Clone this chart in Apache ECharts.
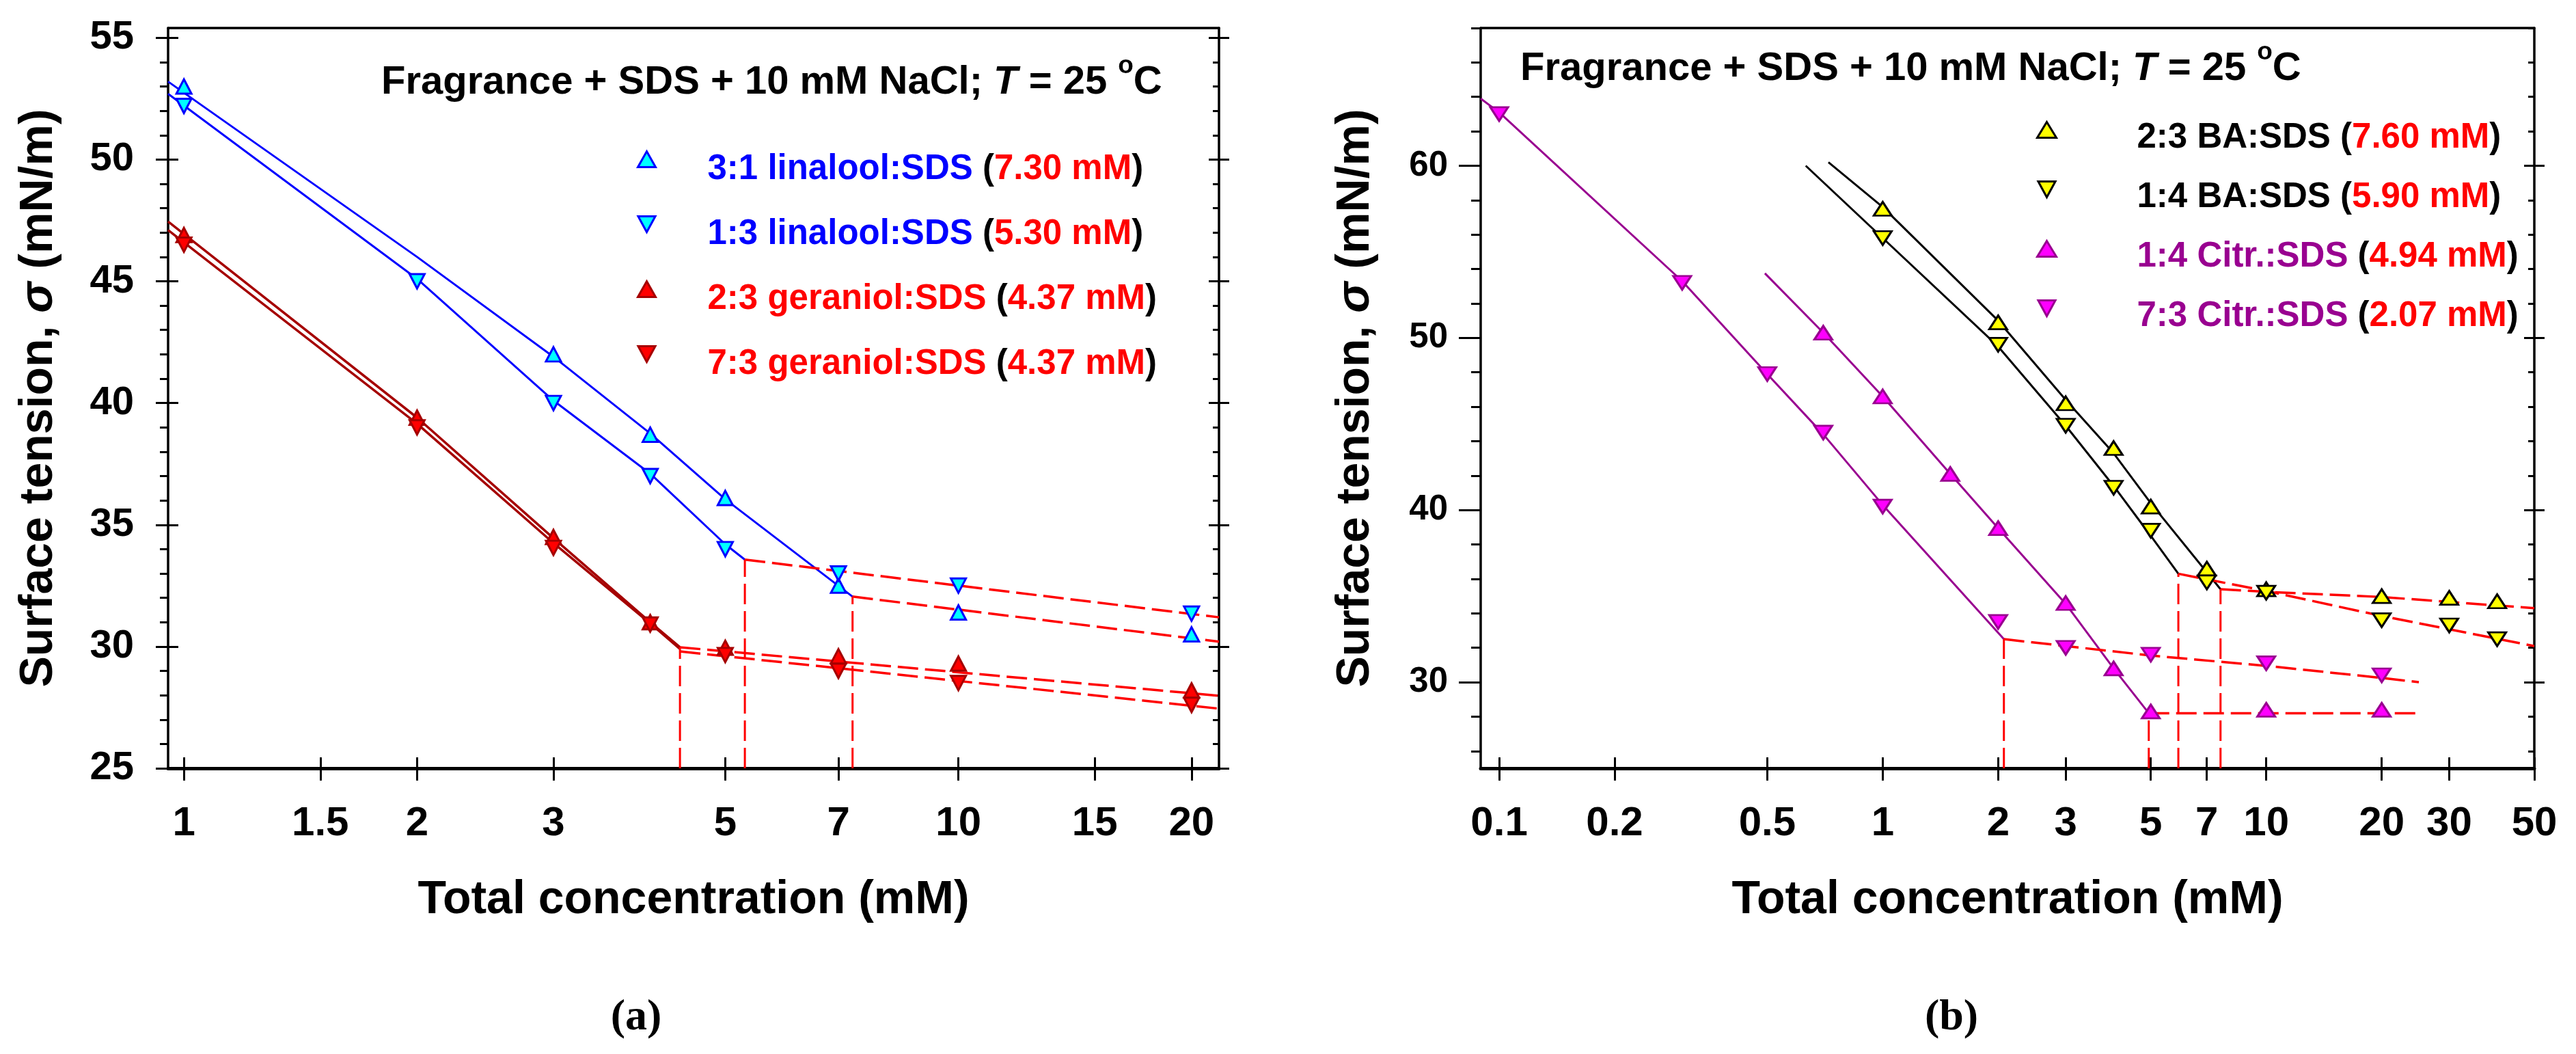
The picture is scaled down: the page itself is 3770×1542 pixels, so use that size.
<!DOCTYPE html>
<html>
<head>
<meta charset="utf-8">
<script src="https://cdn.jsdelivr.net/npm/echarts@6.0.0/dist/echarts.min.js"></script>
<style>
  html, body { margin: 0; padding: 0; background: #fff; }
  #chart { width: 3770px; height: 1542px; }
</style>
</head>
<body>
<div id="chart"></div>
<script>
// ---------- panel (a): linalool / geraniol ----------
var xTicksA = [1, 1.5, 2, 3, 5, 7, 10, 15, 20];
var xRangeA = [0.954, 21.7];
var yRangeA = [25, 55.4];
var yMajorA = [25, 30, 35, 40, 45, 50, 55];

var namesA = ['3:1 linalool:SDS', '1:3 linalool:SDS', '2:3 geraniol:SDS', '7:3 geraniol:SDS'];
var cmcTextA = ['7.30 mM', '5.30 mM', '4.37 mM', '4.37 mM'];

var concLin31 = [1, 3, 4, 5, 7, 10, 20];
var sigLin31 = [53.0, 42.0, 38.7, 36.1, 32.5, 31.4, 30.5];
var concLin13 = [1, 2, 3, 4, 5, 7, 10, 20];
var sigLin13 = [52.2, 45.0, 40.0, 37.0, 34.0, 33.0, 32.5, 31.35];
var concGer23 = [1, 2, 3, 4, 5, 7, 10, 20];
var sigGer23 = [46.9, 39.4, 34.5, 31.0, 29.95, 29.6, 29.3, 28.2];
var concGer73 = [1, 2, 3, 4, 5, 7, 10, 20];
var sigGer73 = [46.5, 39.0, 34.05, 30.9, 29.65, 29.0, 28.5, 27.6];

// fitted curves: [conc, sigma]
var fitLin31 = [[0.954, 53.2], [2, 46.0], [3, 41.9], [4, 38.75], [5, 36.05], [7.3, 32.05]];
var fitLin13 = [[0.954, 52.7], [2, 45.1], [3, 40.1], [4, 37.1], [5, 34.2], [5.3, 33.57]];
var fitGer23 = [[0.954, 47.45], [2, 39.4], [3, 34.45], [4, 31.0], [4.37, 29.97]];
var fitGer73 = [[0.954, 47.1], [2, 39.15], [3, 34.25], [4, 30.95], [4.37, 29.9]];
var dashLin31 = [[7.3, 32.05], [21.7, 30.2]];
var dashLin13 = [[5.3, 33.57], [21.7, 31.2]];
var dashGer23 = [[4.37, 29.97], [21.7, 27.98]];
var dashGer73 = [[4.37, 29.8], [21.7, 27.45]];
var cmcA = [4.37, 5.3, 7.3];
var cmcTopA = [29.97, 33.57, 32.05];

// ---------- panel (b): benzyl alcohol / citronellol ----------
var xTicksB = [0.1, 0.2, 0.5, 1, 2, 3, 5, 7, 10, 20, 30, 50];
var xRangeB = [0.0895, 50];
var yRangeB = [25, 68];
var yMajorB = [30, 40, 50, 60];

var namesB = ['2:3 BA:SDS', '1:4 BA:SDS', '1:4 Citr.:SDS', '7:3 Citr.:SDS'];
var cmcTextB = ['7.60 mM', '5.90 mM', '4.94 mM', '2.07 mM'];

var concBa23 = [1, 2, 3, 4, 5, 7, 10, 20, 30, 40];
var sigBa23 = [57.5, 50.9, 46.2, 43.6, 40.2, 36.6, 35.4, 35.0, 34.9, 34.7];
var concBa14 = [1, 2, 3, 4, 5, 7, 10, 20, 30, 40];
var sigBa14 = [55.8, 49.6, 44.9, 41.3, 38.8, 35.8, 35.2, 33.6, 33.3, 32.5];
var concCit14 = [0.7, 1, 1.5, 2, 3, 4, 5, 10, 20];
var sigCit14 = [50.3, 46.6, 42.1, 38.95, 34.6, 30.8, 28.3, 28.4, 28.4];
var concCit73 = [0.1, 0.3, 0.5, 0.7, 1, 2, 3, 5, 10, 20];
var sigCit73 = [63.0, 53.2, 47.9, 44.5, 40.2, 33.5, 32.0, 31.6, 31.1, 30.4];

var fitBa23 = [[0.722, 60.2], [1, 57.6], [2, 51.0], [3, 46.4], [4, 43.3], [5, 40.4], [7.6, 35.4]];
var fitBa14 = [[0.63, 60.0], [1, 55.8], [2, 49.5], [3, 44.9], [4, 41.4], [5, 38.5], [5.9, 36.3]];
var fitCit14 = [[0.493, 53.75], [0.7, 50.3], [1, 46.6], [1.5, 42.1], [2, 38.95], [3, 34.55], [4, 30.8], [4.94, 28.2]];
var fitCit73 = [[0.0895, 63.9], [0.1, 63.1], [0.3, 53.3], [0.5, 47.9], [0.7, 44.4], [1, 40.3], [2.07, 32.5]];
var dashBa23 = [[7.6, 35.4], [10, 35.25], [20, 34.95], [50, 34.3]];
var dashBa14 = [[5.9, 36.3], [10, 35.3], [20, 33.85], [50, 32.1]];
var dashCit14 = [[4.94, 28.2], [24.7, 28.2]];
var dashCit73 = [[2.07, 32.5], [3, 32.1], [5, 31.55], [10, 30.95], [20, 30.25], [25, 30.0]];
var cmcB = [2.07, 4.94, 5.9, 7.6];
var cmcTopB = [32.5, 28.2, 36.3, 35.4];

// ---------- helpers ----------
var FONT = '"Liberation Sans", Arial, Helvetica, sans-serif';
var lg = function (v) { return Math.log10(v); };
function pts(xs, ys) { return xs.map(function (x, i) { return [lg(x), ys[i]]; }); }
function path(pairs) { return pairs.map(function (p) { return [lg(p[0]), p[1]]; }); }
function minorTicks(lo, hi, step, majors) {
  var out = [];
  for (var v = lo; v <= hi + 1e-9; v += step) {
    if (majors.indexOf(Math.round(v * 100) / 100) < 0) out.push(Math.round(v * 100) / 100);
  }
  return out;
}
function fmtConc(v) { return String(+Math.pow(10, v).toPrecision(6)); }

var black = '#000';
var DOWN = 'path://M0,0L24,0L12,22Z';

function xAxes(g, range, ticks, labelSize) {
  var base = { type: 'value', gridIndex: g, min: lg(range[0]), max: lg(range[1]), splitLine: { show: false } };
  var tv = ticks.map(lg);
  return [
    Object.assign({}, base, {
      position: 'bottom', offset: 0,
      axisLine: { show: true, onZero: false, lineStyle: { color: black, width: 5 } },
      axisTick: { show: false }, axisLabel: { show: false },
      name: 'Total concentration (mM)', nameLocation: 'middle', nameGap: 159, nameMoveOverlap: false,
      nameTextStyle: { fontSize: 68, fontWeight: 'bold', color: black, fontFamily: FONT, lineHeight: 68 }
    }),
    Object.assign({}, base, {
      position: 'bottom', offset: 18,
      axisLine: { show: false, onZero: false },
      axisTick: { show: true, inside: true, length: 34, customValues: tv, lineStyle: { color: black, width: 3 } },
      axisLabel: { show: true, customValues: tv, formatter: fmtConc, margin: 33, fontSize: labelSize,
        fontWeight: 'bold', color: black, fontFamily: FONT }
    }),
    Object.assign({}, base, {
      position: 'top', offset: 0,
      axisLine: { show: true, onZero: false, lineStyle: { color: black, width: 3.5 } },
      axisTick: { show: false }, axisLabel: { show: false }
    })
  ];
}

function yAxes(g, range, majors, minors, o) {
  var base = { type: 'value', gridIndex: g, min: range[0], max: range[1], splitLine: { show: false } };
  return [
    Object.assign({}, base, {
      position: 'left', offset: 0,
      axisLine: { show: true, onZero: false, lineStyle: { color: black, width: 3.5 } },
      axisTick: { show: true, inside: false, length: o.minorLen, customValues: minors, lineStyle: { color: black, width: 3 } },
      axisLabel: { show: false },
      name: 'Surface tension, {s|σ} (mN/m)', nameLocation: 'middle', nameRotate: 90, nameGap: o.nameGap,
      nameMoveOverlap: false,
      nameTextStyle: { fontSize: 68, fontWeight: 'bold', color: black, fontFamily: FONT, lineHeight: 68,
        rich: { s: { fontSize: 68, fontWeight: 'bold', fontStyle: 'italic', color: black, fontFamily: FONT, lineHeight: 68 } } }
    }),
    Object.assign({}, base, {
      position: 'left', offset: o.majorOff,
      axisLine: { show: false, onZero: false },
      axisTick: { show: true, inside: o.majorInside, length: o.majorLen, customValues: majors, lineStyle: { color: black, width: 3 } },
      axisLabel: { show: true, customValues: majors, margin: o.labelMargin, fontSize: o.labelSize,
        fontWeight: 'bold', color: black, fontFamily: FONT }
    }),
    Object.assign({}, base, {
      position: 'right', offset: 0,
      axisLine: { show: true, onZero: false, lineStyle: { color: black, width: 3.5 } },
      axisTick: { show: true, inside: true, length: 9, customValues: minors, lineStyle: { color: black, width: 3 } },
      axisLabel: { show: false }
    }),
    Object.assign({}, base, {
      position: 'right', offset: 15,
      axisLine: { show: false, onZero: false },
      axisTick: { show: true, inside: true, length: 30, customValues: majors, lineStyle: { color: black, width: 3 } },
      axisLabel: { show: false }
    })
  ];
}

function scatter(name, xi, yi, xs, ys, down, fill, stroke, size) {
  return {
    type: 'scatter', name: name, xAxisIndex: xi, yAxisIndex: yi, data: pts(xs, ys),
    symbol: 'triangle', symbolRotate: down ? 180 : 0, symbolSize: size,
    itemStyle: { color: fill, borderColor: stroke, borderWidth: 3, opacity: 1 },
    z: 5, silent: true
  };
}
function curve(xi, yi, pairs, color, width, dashed) {
  return {
    type: 'line', xAxisIndex: xi, yAxisIndex: yi, data: path(pairs),
    symbol: 'none', smooth: false, silent: true, z: 3,
    lineStyle: { color: color, width: width, type: dashed ? [30, 10] : 'solid' }
  };
}
function cmcLines(xi, yi, xs, tops, floor) {
  return xs.map(function (c, i) {
    return curve(xi, yi, [[c, floor], [c, tops[i]]], '#ff0000', 3, true);
  });
}

var blue = '#0000ff', cyan = '#00ffff', dred = '#a50000', red = '#ff0000';
var yellow = '#ffff00', magenta = '#ff00ff', purple = '#990090';

var sizeA = [22, 21], sizeB = [26, 20];

var series = [
  curve(0, 0, fitLin31, blue, 3, false),
  curve(0, 0, fitLin13, blue, 3, false),
  curve(0, 0, fitGer23, dred, 3.5, false),
  curve(0, 0, fitGer73, dred, 3.5, false),
  curve(0, 0, dashLin31, red, 3.5, true),
  curve(0, 0, dashLin13, red, 3.5, true),
  curve(0, 0, dashGer23, red, 3.5, true),
  curve(0, 0, dashGer73, red, 3.5, true)
].concat(cmcLines(0, 0, cmcA, cmcTopA, 25)).concat([
  scatter(namesA[0], 0, 0, concLin31, sigLin31, false, cyan, blue, sizeA),
  scatter(namesA[1], 0, 0, concLin13, sigLin13, true, cyan, blue, sizeA),
  scatter(namesA[2], 0, 0, concGer23, sigGer23, false, red, dred, sizeA),
  scatter(namesA[3], 0, 0, concGer73, sigGer73, true, red, dred, sizeA),

  curve(3, 4, fitBa23, black, 3, false),
  curve(3, 4, fitBa14, black, 3, false),
  curve(3, 4, fitCit14, purple, 3, false),
  curve(3, 4, fitCit73, purple, 3, false),
  curve(3, 4, dashBa23, red, 3.5, true),
  curve(3, 4, dashBa14, red, 3.5, true),
  curve(3, 4, dashCit14, red, 3.5, true),
  curve(3, 4, dashCit73, red, 3.5, true)
]).concat(cmcLines(3, 4, cmcB, cmcTopB, 25)).concat([
  scatter(namesB[0], 3, 4, concBa23, sigBa23, false, yellow, black, sizeB),
  scatter(namesB[1], 3, 4, concBa14, sigBa14, true, yellow, black, sizeB),
  scatter(namesB[2], 3, 4, concCit14, sigCit14, false, magenta, purple, sizeB),
  scatter(namesB[3], 3, 4, concCit73, sigCit73, true, magenta, purple, sizeB)
]);

function legendRich(size) {
  var t = function (c) { return { color: c, fontSize: size, fontWeight: 'bold', fontFamily: FONT, lineHeight: 56 }; };
  return { bl: t(blue), rd: t(red), bk: t(black), pu: t(purple), k: t(black), r: t(red) };
}
function legend(names, cmcs, keys, left, top, gap, padTop, padLeft, size, iw, ih) {
  return {
    // rows 2 and 4 are down triangles
    data: names.map(function (n, i) { return i % 2 ? { name: n, icon: DOWN } : { name: n, icon: 'triangle' }; }),
    orient: 'vertical', left: left, top: top, padding: 0, itemGap: gap,
    itemWidth: iw, itemHeight: ih, selectedMode: false,
    itemStyle: { borderWidth: 3 },
    textStyle: { fontSize: size, fontWeight: 'bold', fontFamily: FONT, color: black, lineHeight: 56,
      padding: [padTop, 0, 0, padLeft], rich: legendRich(size) },
    formatter: function (name) {
      var i = names.indexOf(name);
      return '{' + keys[i] + '|' + name + '} {k|(}{r|' + cmcs[i] + '}{k|)}';
    }
  };
}

var titleRich = {
  m: { fontSize: 58, fontWeight: 'bold', fontFamily: FONT, color: black, lineHeight: 58 },
  it: { fontSize: 58, fontWeight: 'bold', fontStyle: 'italic', fontFamily: FONT, color: black, lineHeight: 58 },
  sup: { fontSize: 37, fontWeight: 'bold', fontFamily: FONT, color: black, lineHeight: 37, padding: [0, 0, 48, 0] }
};
var titleText = '{m|Fragrance + SDS + 10 mM NaCl; }{it|T}{m| = 25 }{sup|o}{m|C}';

var option = {
  backgroundColor: '#fff',
  animation: false,
  title: [
    { text: titleText, left: 558, top: 92, padding: 0, textStyle: { rich: titleRich } },
    { text: titleText, left: 2225, top: 72, padding: 0, textStyle: { rich: titleRich } },
    { text: '(a)', left: 931, top: 1457, padding: 0, textAlign: 'center',
      textStyle: { fontSize: 64, fontWeight: 'bold', fontFamily: '"Liberation Serif", "Times New Roman", serif', color: black, lineHeight: 64 } },
    { text: '(b)', left: 2856, top: 1457, padding: 0, textAlign: 'center',
      textStyle: { fontSize: 64, fontWeight: 'bold', fontFamily: '"Liberation Serif", "Times New Roman", serif', color: black, lineHeight: 64 } }
  ],
  legend: [
    legend(namesA, cmcTextA, ['bl', 'bl', 'rd', 'rd'], 932, 190, 9, 30, 71, 51, 26, 23),
    legend(namesB, cmcTextB, ['bk', 'bk', 'pu', 'pu'], 2980, 150, 7, 24, 113, 51, 28, 23)
  ],
  grid: [
    { left: 246, top: 41, width: 1538, height: 1083, containLabel: false, outerBoundsMode: 'none' },
    { left: 2167, top: 41, width: 1542, height: 1083, containLabel: false, outerBoundsMode: 'none' }
  ],
  xAxis: xAxes(0, xRangeA, xTicksA, 60).concat(xAxes(1, xRangeB, xTicksB, 60)),
  yAxis: yAxes(0, yRangeA, yMajorA, minorTicks(25, 55, 1, yMajorA),
      { minorLen: 12, majorOff: 18, majorInside: true, majorLen: 33, labelMargin: 32, labelSize: 58, nameGap: 155 })
    .concat(yAxes(1, yRangeB, yMajorB, minorTicks(26, 68, 2, yMajorB),
      { minorLen: 14, majorOff: 0, majorInside: false, majorLen: 32, labelMargin: 48, labelSize: 51, nameGap: 149 })),
  series: series
};

var chart = echarts.init(document.getElementById('chart'), null, { renderer: 'canvas' });
chart.setOption(option);
</script>
</body>
</html>
